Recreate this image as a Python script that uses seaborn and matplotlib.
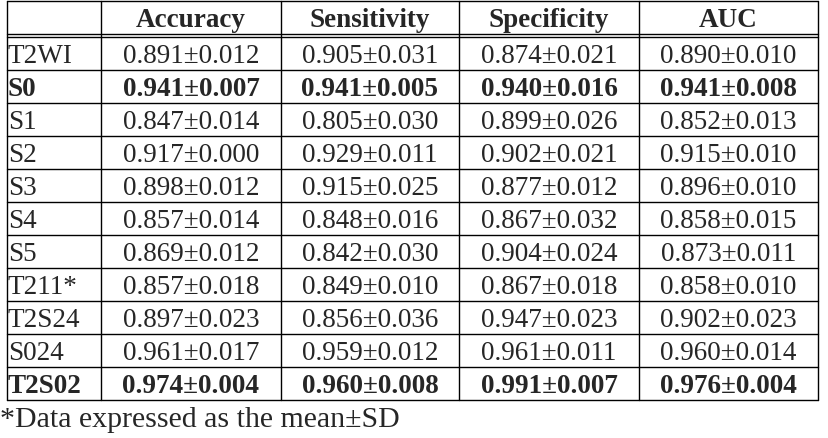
import matplotlib
matplotlib.use('Agg')
import matplotlib.pyplot as plt
import seaborn as sns

models = ['T2WI', 'S0', 'S1', 'S2', 'S3', 'S4', 'S5', 'T211*', 'T2S24', 'S024', 'T2S02']
metrics = ['Accuracy', 'Sensitivity', 'Specificity', 'AUC']
accuracy = [(0.891, 0.012), (0.941, 0.007), (0.847, 0.014), (0.917, 0.000), (0.898, 0.012),
            (0.857, 0.014), (0.869, 0.012), (0.857, 0.018), (0.897, 0.023), (0.961, 0.017),
            (0.974, 0.004)]
sensitivity = [(0.905, 0.031), (0.941, 0.005), (0.805, 0.030), (0.929, 0.011), (0.915, 0.025),
               (0.848, 0.016), (0.842, 0.030), (0.849, 0.010), (0.856, 0.036), (0.959, 0.012),
               (0.960, 0.008)]
specificity = [(0.874, 0.021), (0.940, 0.016), (0.899, 0.026), (0.902, 0.021), (0.877, 0.012),
               (0.867, 0.032), (0.904, 0.024), (0.867, 0.018), (0.947, 0.023), (0.961, 0.011),
               (0.991, 0.007)]
auc = [(0.890, 0.010), (0.941, 0.008), (0.852, 0.013), (0.915, 0.010), (0.896, 0.010),
       (0.858, 0.015), (0.873, 0.011), (0.858, 0.010), (0.902, 0.023), (0.960, 0.014),
       (0.976, 0.004)]
bold_rows = ['S0', 'T2S02']
footnote = '*Data expressed as the mean\u00b1SD'

sns.set_theme(style='white')
plt.rcParams['font.family'] = ['Liberation Serif', 'DejaVu Serif']

fig = plt.figure(figsize=(8.29, 4.38), dpi=100)
ax = fig.add_axes([0, 0, 1, 1])
ax.set_xlim(0, 829)
ax.set_ylim(438, 0)
ax.axis('off')

col_edges = [7, 101, 281, 459, 639, 818]
header_bottom = 34
row_top = 37
row_h = 33
n = len(models)
bottom = row_top + row_h * n
lw = 1.0
fs = 19.5

# grid
for x in col_edges:
    ax.plot([x, x], [1, bottom], color='black', lw=lw)
ax.plot([col_edges[0], col_edges[-1]], [1, 1], color='black', lw=lw)
ax.plot([col_edges[0], col_edges[-1]], [header_bottom, header_bottom], color='black', lw=lw)
for i in range(n + 1):
    y = row_top + row_h * i
    ax.plot([col_edges[0], col_edges[-1]], [y, y], color='black', lw=lw)

# header
for j, m in enumerate(metrics):
    cx = (col_edges[j + 1] + col_edges[j + 2]) / 2
    ax.text(cx, header_bottom - 7, m, ha='center', va='baseline', fontsize=fs, fontweight='bold')

# body
columns = [accuracy, sensitivity, specificity, auc]
for i, name in enumerate(models):
    yb = row_top + row_h * (i + 1) - 7
    w = 'bold' if name in bold_rows else 'normal'
    ax.text(col_edges[0] + 1, yb, name, ha='left', va='baseline', fontsize=fs, fontweight=w)
    for j, col in enumerate(columns):
        mean, sd = col[i]
        cx = (col_edges[j + 1] + col_edges[j + 2]) / 2
        ax.text(cx, yb, f'{mean:.3f}\u00b1{sd:.3f}', ha='center', va='baseline',
                fontsize=fs, fontweight=w)

ax.text(0, 427, footnote, ha='left', va='baseline', fontsize=21.5)

fig.savefig('out.png', dpi=100)
